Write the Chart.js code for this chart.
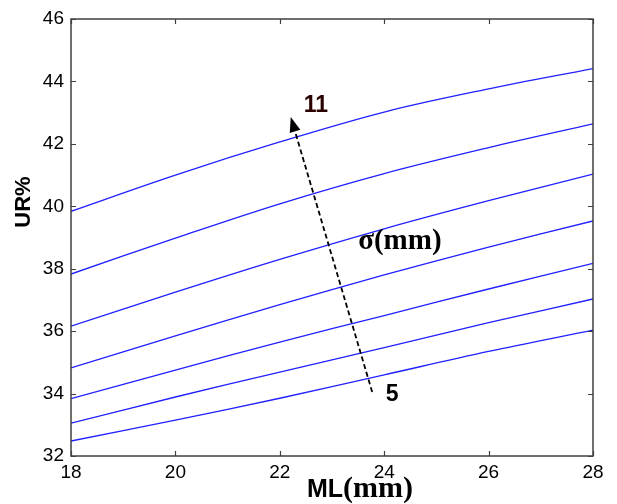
<!DOCTYPE html>
<html>
<head>
<meta charset="utf-8">
<script src="https://cdn.jsdelivr.net/npm/chart.js@4/dist/chart.umd.min.js"></script>
<style>
  html, body { margin: 0; padding: 0; background: #fff; }
  #wrap { width: 617px; height: 504px; }
</style>
</head>
<body>
<div id="wrap"><canvas id="c" width="617" height="504"></canvas></div>
<script>
// ML (mm) along the x axis
const mlValues = [18, 20, 22, 24, 26, 28];

// UR% for each σ (mm), from σ = 5 (lowest) to σ = 11 (highest)
const urSigma5  = [32.48, 33.15, 33.85, 34.60, 35.35, 36.03];
const urSigma6  = [33.05, 33.89, 34.69, 35.47, 36.27, 37.03];
const urSigma7  = [33.84, 34.75, 35.65, 36.50, 37.35, 38.17];
const urSigma8  = [34.82, 35.85, 36.85, 37.80, 38.69, 39.53];
const urSigma9  = [36.16, 37.25, 38.30, 39.28, 40.18, 41.03];
const urSigma10 = [37.83, 38.98, 40.08, 41.05, 41.88, 42.64];
const urSigma11 = [39.84, 41.00, 42.06, 43.02, 43.76, 44.41];

const sigmaLabels = ['5', '6', '7', '8', '9', '10', '11'];
const xTickValues = [18, 20, 22, 24, 26, 28];
const yTickValues = [32, 34, 36, 38, 40, 42, 44, 46];

const seriesList = [urSigma5, urSigma6, urSigma7, urSigma8, urSigma9, urSigma10, urSigma11];

const datasets = seriesList.map((vals, i) => ({
  label: 'σ = ' + sigmaLabels[i],
  data: mlValues.map((x, k) => ({ x: x, y: vals[k] })),
  borderColor: '#2020ff',
  borderWidth: 1.3,
  pointRadius: 0,
  fill: false,
  tension: 0.35
}));

// Box frame, inward tick marks, the σ arrow and the text annotations
const decorations = {
  id: 'decorations',
  afterDraw(chart) {
    const ctx = chart.ctx;
    const a = chart.chartArea;
    const xs = chart.scales.x, ys = chart.scales.y;
    ctx.save();

    // frame
    ctx.strokeStyle = '#404040';
    ctx.lineWidth = 1.5;
    ctx.strokeRect(a.left, a.top, a.right - a.left, a.bottom - a.top);

    // inward ticks on all four sides
    const tl = 5;
    ctx.lineWidth = 1.2;
    ctx.beginPath();
    xTickValues.forEach(v => {
      const px = Math.round(xs.getPixelForValue(v)) + 0.5;
      ctx.moveTo(px, a.bottom); ctx.lineTo(px, a.bottom - tl);
      ctx.moveTo(px, a.top); ctx.lineTo(px, a.top + tl);
    });
    yTickValues.forEach(v => {
      const py = Math.round(ys.getPixelForValue(v)) + 0.5;
      ctx.moveTo(a.left, py); ctx.lineTo(a.left + tl, py);
      ctx.moveTo(a.right, py); ctx.lineTo(a.right - tl, py);
    });
    ctx.stroke();

    // dashed arrow showing σ increasing from 5 to 11
    const x0 = xs.getPixelForValue(23.77), y0 = ys.getPixelForValue(34.05);
    const x1 = xs.getPixelForValue(22.21), y1 = ys.getPixelForValue(42.86);
    const ang = Math.atan2(y1 - y0, x1 - x0);
    const headLen = 15, headW = 5.5;
    const bx = x1 - headLen * Math.cos(ang), by = y1 - headLen * Math.sin(ang);
    ctx.strokeStyle = '#000';
    ctx.lineWidth = 1.8;
    ctx.setLineDash([5, 3]);
    ctx.beginPath();
    ctx.moveTo(x0, y0); ctx.lineTo(bx, by);
    ctx.stroke();
    ctx.setLineDash([]);
    ctx.fillStyle = '#000';
    ctx.beginPath();
    ctx.moveTo(x1, y1);
    ctx.lineTo(bx + headW * Math.sin(ang), by - headW * Math.cos(ang));
    ctx.lineTo(bx - headW * Math.sin(ang), by + headW * Math.cos(ang));
    ctx.closePath();
    ctx.fill();

    // labels on the arrow
    ctx.textAlign = 'center';
    ctx.textBaseline = 'middle';
    ctx.font = 'bold 23px "Liberation Sans", Arial, sans-serif';
    ctx.fillStyle = '#2a0000';
    ctx.fillText('11', xs.getPixelForValue(22.69), ys.getPixelForValue(43.21));
    ctx.fillStyle = '#000';
    ctx.fillText('5', xs.getPixelForValue(24.15), ys.getPixelForValue(33.98));
    ctx.font = 'bold 29px "Liberation Serif", "Times New Roman", serif';
    ctx.fillText('σ(mm)', xs.getPixelForValue(24.30), ys.getPixelForValue(38.88));

    // y axis title
    ctx.save();
    ctx.translate(24, 202);
    ctx.rotate(-Math.PI / 2);
    ctx.font = 'bold 22px "Liberation Sans", Arial, sans-serif';
    ctx.fillText('UR%', 0, 0);
    ctx.restore();

    // x axis title: sans "ML" followed by serif "(mm)"
    ctx.textAlign = 'left';
    ctx.textBaseline = 'alphabetic';
    ctx.font = 'bold 25px "Liberation Sans", Arial, sans-serif';
    const mlW = ctx.measureText('ML').width;
    ctx.fillText('ML', 307, 497);
    ctx.font = 'bold 30px "Liberation Serif", "Times New Roman", serif';
    ctx.fillText('(mm)', 307 + mlW, 497);

    ctx.restore();
  }
};

new Chart(document.getElementById('c'), {
  type: 'line',
  data: { datasets: datasets },
  options: {
    responsive: false,
    animation: false,
    devicePixelRatio: 1,
    layout: { padding: { left: 0, top: 19, right: 24, bottom: 0 } },
    plugins: { legend: { display: false }, tooltip: { enabled: false } },
    scales: {
      x: {
        type: 'linear',
        min: 18, max: 28,
        afterFit(s) { s.height = 48; },
        afterBuildTicks(s) { s.ticks = xTickValues.map(v => ({ value: v })); },
        ticks: {
          autoSkip: false, maxRotation: 0, padding: 5,
          color: '#000',
          font: { family: '"Liberation Sans", Arial, sans-serif', size: 19 }
        },
        grid: { drawOnChartArea: false, drawTicks: false },
        border: { display: false }
      },
      y: {
        type: 'linear',
        min: 32, max: 46,
        afterFit(s) { s.width = 71; },
        afterBuildTicks(s) { s.ticks = yTickValues.map(v => ({ value: v })); },
        ticks: {
          padding: 7,
          color: '#000',
          font: { family: '"Liberation Sans", Arial, sans-serif', size: 19 }
        },
        grid: { drawOnChartArea: false, drawTicks: false },
        border: { display: false }
      }
    }
  },
  plugins: [decorations]
});
</script>
</body>
</html>
